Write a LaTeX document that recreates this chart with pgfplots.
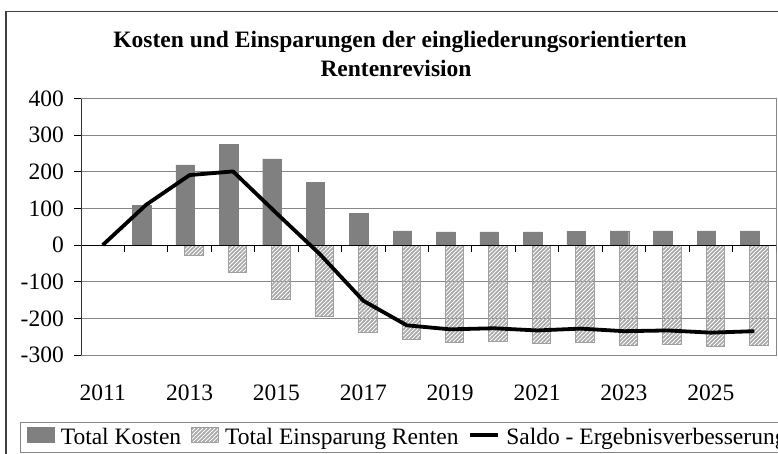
\documentclass[border=0pt]{standalone}
\usepackage{fontspec}
\setmainfont{Liberation Serif}
\usepackage{pgfplots}
\pgfplotsset{compat=1.18}
\usetikzlibrary{patterns.meta}
\definecolor{kosten}{HTML}{808080}
\definecolor{hatch}{HTML}{A8A8A8}
\definecolor{hatchedge}{HTML}{A0A0A0}
\definecolor{gridgray}{HTML}{868686}
\newcommand\chartfont{\fontsize{23.5}{27}\selectfont}
\pgfdeclarepattern{
  name=hatchlines, type=uncolored,
  bottom left={\pgfpoint{-0.5pt}{-0.5pt}}, top right={\pgfpoint{4.5pt}{4.5pt}},
  tile size={\pgfpoint{4pt}{4pt}},
  code={
    \pgfsetlinewidth{1.6pt}
    \pgfpathmoveto{\pgfpoint{-1pt}{-1pt}}
    \pgfpathlineto{\pgfpoint{5pt}{5pt}}
    \pgfusepath{stroke}
  }
}
\tikzset{hatchfill/.style={pattern=hatchlines, pattern color=hatch}}

\begin{document}
\begin{tikzpicture}
  \useasboundingbox (0pt,0pt) rectangle (778pt,453pt);
  \clip (0pt,0pt) rectangle (778pt,453pt);
  % outer chart frame (runs past the cut edges)
  \draw[black!75, line width=1.2pt] (6pt,-30pt) rectangle (820pt,441.5pt);
  \node[font=\chartfont\bfseries, anchor=base, inner sep=0pt] at (400pt,405pt)
    {Kosten und Einsparungen der eingliederungsorientierten};
  \node[font=\chartfont\bfseries, anchor=base, inner sep=0pt] at (396pt,376pt)
    {Rentenrevision};
  \begin{axis}[
      at={(81pt,98pt)}, anchor=south west,
      scale only axis, width=695pt, height=256.5pt,
      xmin=-0.5, xmax=15.5,
      ymin=-300, ymax=400,
      ytick={-300,-200,...,400},
      xtick={0,2,...,14},
      xticklabels={2011,2013,2015,2017,2019,2021,2023,2025},
      font=\chartfont,
      /pgf/number format/assume math mode=true,
      ymajorgrids, grid style={gridgray, line width=0.9pt},
      axis line style={gridgray, line width=0.9pt},
      tick align=outside, ytick pos=left,
      major tick length=7pt,
      ytick style={black, line width=0.9pt},
      xtick style={draw=none},
      yticklabel style={anchor=east, inner sep=0pt, xshift=-10pt},
      xticklabel style={anchor=base, inner sep=0pt, yshift=-38pt},
      legend style={at={(axis description cs:-0.0878,-0.2612)}, anchor=north west,
                    draw=gridgray, line width=1.2pt, inner xsep=6pt, inner ysep=4pt,
                    legend columns=-1, font=\chartfont,
                    nodes={inner xsep=0pt, inner ysep=2pt},
                    /tikz/every odd column/.append style={column sep=6pt},
                    /tikz/every even column/.append style={column sep=10pt}},
      legend cell align=left,
    ]
    \addplot[ybar, bar width=18.5pt, bar shift=-4.5pt, fill=kosten, draw=kosten,
      legend image code/.code={\fill[kosten] (0pt,-5pt) rectangle (27pt,10pt);}]
      coordinates {(1,109) (2,219) (3,274) (4,235) (5,171) (6,87) (7,39) (8,36)
        (9,36) (10,36) (11,38) (12,39) (13,39) (14,39) (15,39)};
    \addplot[ybar, bar width=18.5pt, bar shift=4.5pt, draw=hatchedge, line width=1pt,
      hatchfill,
      legend image code/.code={\draw[hatchedge, line width=1pt, hatchfill]
        (0pt,-5pt) rectangle (27pt,10pt);}]
      coordinates {(2,-28) (3,-75) (4,-148) (5,-196) (6,-239) (7,-258) (8,-267)
        (9,-263) (10,-269) (11,-266) (12,-274) (13,-272) (14,-278) (15,-274)};
    \addplot[black, line width=3.8pt, line join=round, no markers,
      legend image code/.code={\draw[black, line width=3.8pt] (0pt,2.5pt) -- (28pt,2.5pt);}]
      coordinates {(0,0) (1,110) (2,191) (3,201) (4,87) (5,-25) (6,-152) (7,-219)
        (8,-230) (9,-227) (10,-233) (11,-228) (12,-235) (13,-233) (14,-239) (15,-235)};
    % category axis on the zero line
    \draw[black, line width=0.9pt] (axis cs:-0.5,0) -- (axis cs:15.5,0);
    \pgfplotsinvokeforeach{-0.5,0.5,...,15.5}{
      \draw[black, line width=0.9pt] (axis cs:#1,0) -- ++(0pt,-7pt);
    }
    \draw[black!80, line width=0.9pt] (axis cs:-0.5,-300) -- (axis cs:-0.5,400);
    \legend{Total Kosten, Total Einsparung Renten, Saldo - Ergebnisverbesserung}
  \end{axis}
\end{tikzpicture}
\end{document}
